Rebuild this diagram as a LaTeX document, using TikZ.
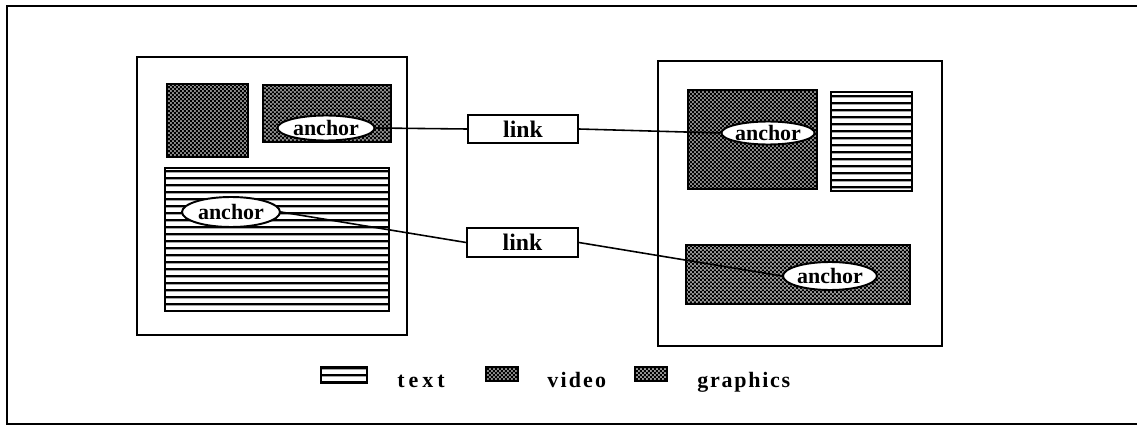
\documentclass[tikz,border=0pt]{standalone}
\usepackage{fontspec}
\setmainfont{Liberation Serif}
\usetikzlibrary{shapes.geometric,patterns.meta}

\tikzdeclarepattern{
  name=finechecks,
  type=uncolored,
  bounding box={(0,0) and (2.2pt,2.2pt)},
  tile size={(2.2pt,2.2pt)},
  code={
    \fill (0,0) rectangle (1.1pt,1.1pt);
    \fill (1.1pt,1.1pt) rectangle (2.2pt,2.2pt);
  }
}
\tikzdeclarepattern{
  name=textlines,
  type=uncolored,
  bounding box={(0,0) and (40pt,3.7pt)},
  tile size={(40pt,3.7pt)},
  code={
    \fill (0,0.4pt) rectangle (40pt,1.7pt);
  }
}

\begin{document}
\begin{tikzpicture}[font=\bfseries\fontsize{12.5}{14}\selectfont]
    \tikzset{panel/.style={line width=1pt},
             video box/.style={line width=1pt, fill=black!45, postaction={pattern=finechecks}},
             graphics box/.style={line width=1pt, fill=black!40, postaction={pattern=finechecks}},
             text box/.style={line width=1pt, pattern=textlines},
             anchor node/.style={ellipse, draw, line width=1.1pt, fill=white, inner sep=0pt},
             link node/.style={rectangle, draw, line width=1pt, fill=white, inner sep=0pt},
             link lines/.style={line width=0.9pt}}
    \useasboundingbox (0, 0) rectangle (22.74, -8.72);
    % \draw (0, 0) grid (22, -8);
    \draw [line width=0.9pt] (0.14, -0.12) rectangle (23, -8.48);
    % left page
    \draw [panel] (2.74, -1.14) rectangle (8.14, -6.7);
    \draw [video box] (3.34, -1.68) rectangle (4.96, -3.14);
    \draw [video box] (5.26, -1.7) rectangle (7.82, -2.84);
    \draw [text box] (3.3, -3.36) rectangle (7.78, -6.22);
    % right page
    \draw [panel] (13.16, -1.22) rectangle (18.84, -6.92);
    \draw [video box] (13.76, -1.8) rectangle (16.34, -3.78);
    \draw [text box] (16.62, -1.84) rectangle (18.24, -3.82);
    \draw [graphics box] (13.72, -4.9) rectangle (18.2, -6.08);
    \node [anchor node, minimum width=1.94cm, minimum height=0.5cm] (a1) at (6.52, -2.56) {anchor};
    \node [anchor node, minimum width=1.96cm, minimum height=0.6cm] (a2) at (4.62, -4.24) {anchor};
    \node [anchor node, minimum width=1.88cm, minimum height=0.56cm] (a3) at (16.6, -5.52) {anchor};
    \node [anchor node, minimum width=1.86cm, minimum height=0.46cm] (a4) at (15.36, -2.66) {anchor};
    \node [link node, minimum width=2.2cm, minimum height=0.56cm, font=\bfseries\fontsize{13.5}{14}\selectfont] (l1) at (10.46, -2.58) {link};
    \node [link node, minimum width=2.22cm, minimum height=0.58cm, font=\bfseries\fontsize{13.5}{14}\selectfont] (l2) at (10.45, -4.85) {link};
    \draw [link lines] (a1.east) -- (l1.west);
    \draw [link lines] (l1.east) -- (a4.west);
    \draw [link lines] (a2.east) -- (l2.west);
    \draw [link lines] (l2.east) -- (a3.west);
    % legend
    \draw [text box] (6.42, -7.34) rectangle (7.34, -7.66);
    \draw [video box] (9.72, -7.34) rectangle (10.36, -7.62);
    \draw [graphics box] (12.7, -7.34) rectangle (13.34, -7.62);
    \node [anchor=base west, inner sep=0pt] (ltext) at (7.94, -7.74) {\addfontfeature{LetterSpace=18}text};
    \node [anchor=base west, inner sep=0pt] (lvideo) at (10.94, -7.74) {\addfontfeature{LetterSpace=10}video};
    \node [anchor=base west, inner sep=0pt] (lgraphics) at (13.94, -7.74) {\addfontfeature{LetterSpace=8}graphics};
\end{tikzpicture}
\end{document}
